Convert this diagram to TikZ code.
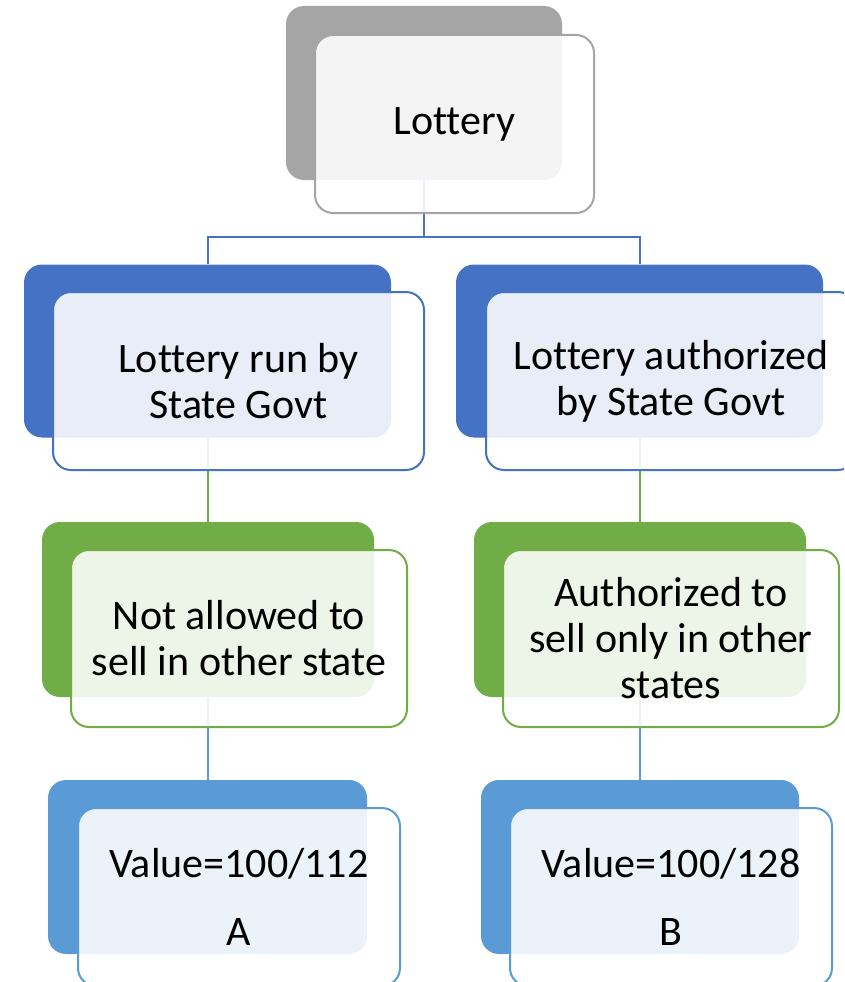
\documentclass[tikz,border=0pt]{standalone}
\usepackage{fontspec}
\setmainfont{Carlito}[Ligatures=NoCommon]
\usetikzlibrary{backgrounds}
\definecolor{cgray}{HTML}{A5A5A5}
\definecolor{cblue}{HTML}{4472C4}
\definecolor{cgreen}{HTML}{70AD47}
\definecolor{clblue}{HTML}{5B9BD5}
\begin{document}
\begin{tikzpicture}[x=1pt,y=-1pt,
  back/.style={fill=#1, rounded corners=18pt, inner sep=0pt, draw=none},
  front/.style={draw=#1, line width=2pt, fill=white, fill opacity=0.88, text opacity=1,
    rounded corners=18pt, inner sep=0pt, align=center, font=\fontsize{42}{46}\selectfont},
  link/.style={draw=#1, line width=2pt}]
\useasboundingbox (0,0) rectangle (844,982);
\clip (0,0) rectangle (844,982);
% top
\node[back=cgray, minimum width=276pt, minimum height=174pt] (lotB) at (424,93) {};
\node[front=cgray, minimum width=279pt, minimum height=178pt] (lotF) at (454.5,124) {Lottery};
% level 2
\node[back=cblue, minimum width=367pt, minimum height=173pt] (runB) at (207.5,351) {};
\node[front=cblue, minimum width=371pt, minimum height=178pt] (runF) at (238.5,381) {Lottery run by\\State Govt};
\node[back=cblue, minimum width=367pt, minimum height=173pt] (authB) at (639.5,351) {};
\node[front=cblue, minimum width=370pt, minimum height=178pt] (authF) at (671,381) {Lottery authorized\\by State Govt};
% level 3
\node[back=cgreen, minimum width=332pt, minimum height=175pt] (notB) at (208,609.5) {};
\node[front=cgreen, minimum width=336pt, minimum height=177pt] (notF) at (239,638.5) {Not allowed to\\sell in other state};
\node[back=cgreen, minimum width=332pt, minimum height=175pt] (onlyB) at (640,609.5) {};
\node[front=cgreen, minimum width=336pt, minimum height=177pt] (onlyF) at (671,638.5) {Authorized to\\sell only in other\\states};
% level 4
\node[back=clblue, minimum width=319pt, minimum height=174pt] (valAB) at (207.5,867) {};
\node[front=clblue, minimum width=322pt, minimum height=178pt] (valAF) at (239,897) {Value=100/112\\[22pt]A};
\node[back=clblue, minimum width=318pt, minimum height=174pt] (valBB) at (640,867) {};
\node[front=clblue, minimum width=322pt, minimum height=178pt] (valBF) at (671,897) {Value=100/128\\[22pt]B};
% connectors
\begin{pgfonlayer}{background}
\draw[link=cblue] (lotB.south) -- ++(0,57) -| (runB.north);
\draw[link=cblue] (lotB.south) -- ++(0,57) -| (authB.north);
\draw[link=cgreen] (runB.south) -- (runB.south |- notB.north);
\draw[link=cgreen] (authB.south) -- (authB.south |- onlyB.north);
\draw[link=clblue] (notB.south) -- (notB.south |- valAB.north);
\draw[link=clblue] (onlyB.south) -- (onlyB.south |- valBB.north);
\end{pgfonlayer}
\end{tikzpicture}
\end{document}
